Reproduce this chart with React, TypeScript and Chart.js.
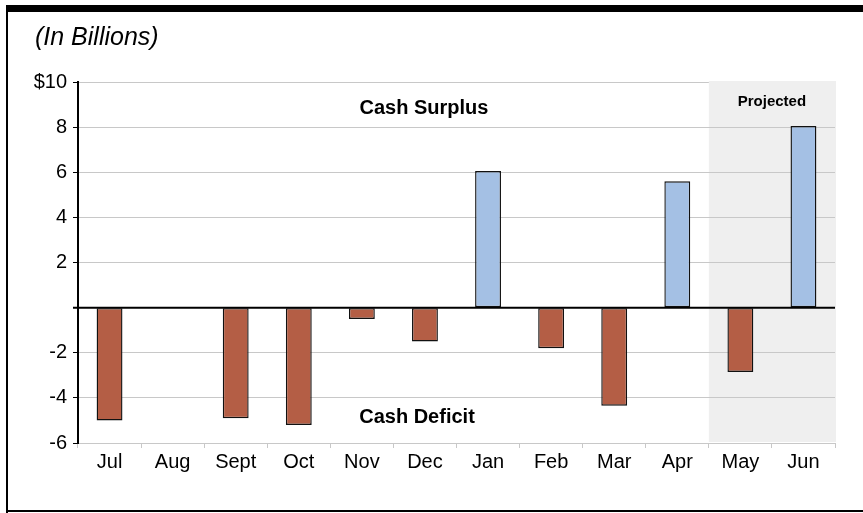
import React, { useEffect, useRef } from "react";
import { Chart, registerables } from "chart.js";

Chart.register(...registerables);

const months = ["Jul", "Aug", "Sept", "Oct", "Nov", "Dec", "Jan", "Feb", "Mar", "Apr", "May", "Jun"];
const cashFlow = [-5.0, 0, -4.9, -5.2, -0.5, -1.5, 6.05, -1.8, -4.35, 5.6, -2.85, 8.05];
const yTicks = [-6, -4, -2, 0, 2, 4, 6, 8, 10];
const projectedStartIndex = 10;

const FONT = "'Liberation Sans', Arial, Helvetica, sans-serif";
const RED = "#b45e45";
const BLUE = "#a4c0e4";

const decorPlugin = {
  id: "decor",
  beforeDraw(chart: any) {
    const { ctx, chartArea, scales } = chart;
    const x = scales.x;
    const x0 = (x.getPixelForValue(projectedStartIndex - 1) + x.getPixelForValue(projectedStartIndex)) / 2;
    ctx.save();
    ctx.fillStyle = "#efefef";
    ctx.fillRect(x0, chartArea.top - 1, chartArea.right - x0 + 1, chartArea.bottom - chartArea.top);
    ctx.restore();
  },
  beforeDatasetsDraw(chart: any) {
    const { ctx, chartArea, scales } = chart;
    const x = scales.x;
    const x0 = (x.getPixelForValue(projectedStartIndex - 1) + x.getPixelForValue(projectedStartIndex)) / 2;
    ctx.save();
    ctx.fillStyle = "#efefef";
    ctx.fillRect(x0, chartArea.top - 1, chartArea.right - x0 + 1, 2);
    ctx.restore();
  },
  afterDatasetsDraw(chart: any) {
    const { ctx, chartArea, scales } = chart;
    const y0 = scales.y.getPixelForValue(0);
    ctx.save();
    ctx.strokeStyle = "#000";
    ctx.lineWidth = 2;
    ctx.beginPath();
    ctx.moveTo(chartArea.left - 5, y0);
    ctx.lineTo(chartArea.right, y0);
    ctx.stroke();
    ctx.restore();
  },
  afterDraw(chart: any) {
    const { ctx, chartArea, scales } = chart;
    const x = scales.x;
    const W = chart.width;
    const H = chart.height;
    ctx.save();
    // frame
    ctx.fillStyle = "#000";
    ctx.fillRect(6, 5, W - 6, 7);
    ctx.fillRect(6, 5, 2, H - 5);
    ctx.fillRect(6, H - 3, W - 6, 2);
    // texts
    ctx.fillStyle = "#000";
    ctx.textBaseline = "alphabetic";
    ctx.textAlign = "left";
    ctx.font = `italic 25px ${FONT}`;
    ctx.fillText("(In Billions)", 35, 45);
    ctx.textAlign = "center";
    ctx.font = `bold 20px ${FONT}`;
    ctx.fillText("Cash Surplus", 424, 114);
    ctx.fillText("Cash Deficit", 417, 423);
    const x0 = (x.getPixelForValue(projectedStartIndex - 1) + x.getPixelForValue(projectedStartIndex)) / 2;
    ctx.font = `bold 15px ${FONT}`;
    ctx.fillText("Projected", (x0 + chartArea.right) / 2, 106);
    ctx.restore();
  },
};

export default function App() {
  const ref = useRef<HTMLCanvasElement | null>(null);
  useEffect(() => {
    if (!ref.current) return;
    const chart = new Chart(ref.current, {
      type: "bar",
      data: {
        labels: months,
        datasets: [
          {
            data: cashFlow,
            backgroundColor: cashFlow.map((v) => (v < 0 ? RED : BLUE)),
            borderColor: "#111",
            borderWidth: 1.4,
            borderSkipped: false,
            barPercentage: 0.41,
            categoryPercentage: 1,
          },
        ],
      },
      options: {
        responsive: false,
        animation: false,
        layout: { padding: { left: 0, top: 82, right: 28, bottom: 0 } },
        plugins: { legend: { display: false }, tooltip: { enabled: false }, title: { display: false } },
        scales: {
          x: {
            offset: true,
            grid: {
              display: true,
              offset: true,
              drawOnChartArea: false,
              drawTicks: true,
              tickLength: 5,
              color: "#c8c8c8",
            },
            border: { display: true, color: "#c8c8c8", width: 1 },
            ticks: { color: "#000", font: { family: FONT, size: 20 }, padding: 2, maxRotation: 0 },
            afterFit(scale: any) {
              scale.height = 70;
            },
          },
          y: {
            min: -6,
            max: 10,
            afterBuildTicks(scale: any) {
              scale.ticks = yTicks.map((v) => ({ value: v }));
            },
            grid: {
              color: (c: any) => (c.tick && c.tick.value === 0 ? "rgba(0,0,0,0)" : "#c8c8c8"),
              tickColor: "#000",
              tickLength: 5,
              lineWidth: 1,
            },
            border: { display: true, color: "#000", width: 2 },
            ticks: {
              color: "#000",
              font: { family: FONT, size: 20 },
              padding: 6,
              callback: (v: any) => (v === 10 ? "$10" : v === 0 ? "" : String(v)),
            },
            afterFit(scale: any) {
              scale.width = 78;
            },
          },
        },
      },
      plugins: [decorPlugin],
    });
    return () => chart.destroy();
  }, []);
  return (
    <div style={{ position: "absolute", left: 0, top: 0, width: 863, height: 513, background: "#fff" }}>
      <canvas ref={ref} width={863} height={513} />
    </div>
  );
}
